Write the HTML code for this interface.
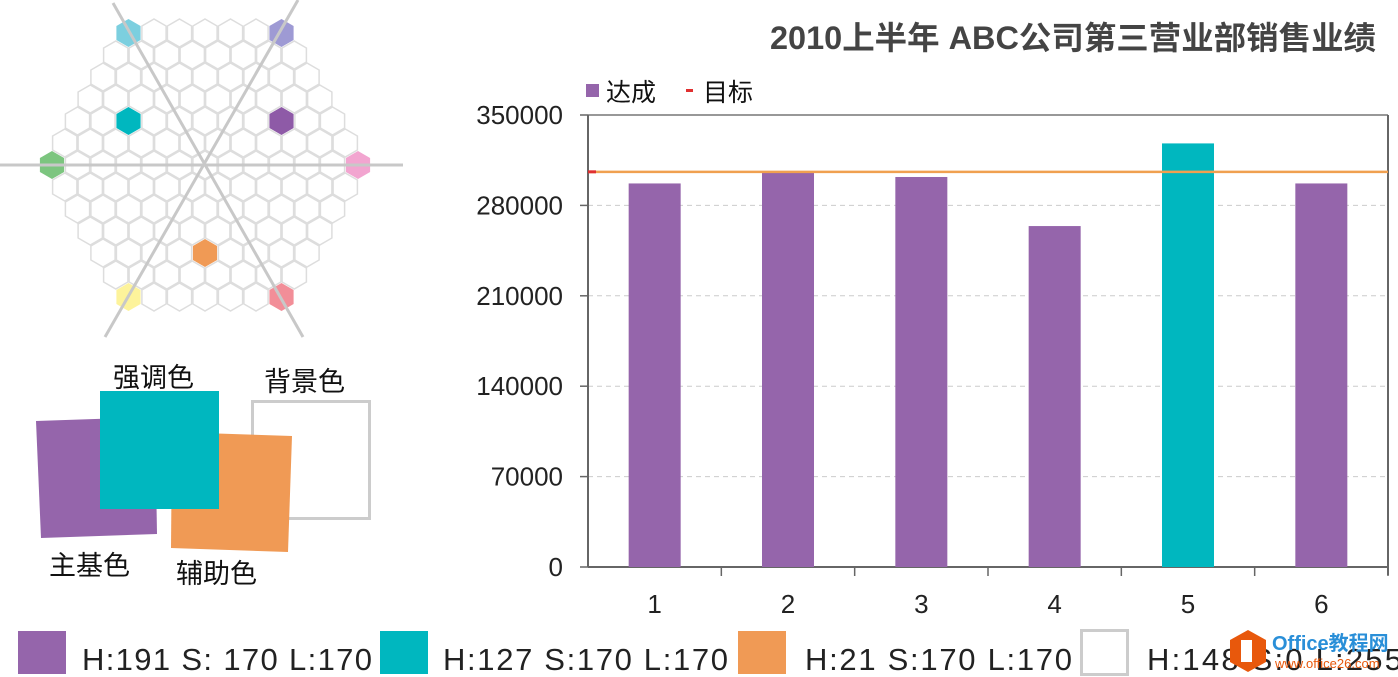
<!DOCTYPE html>
<html><head><meta charset="utf-8"><style>
body{margin:0;width:1398px;height:677px;background:#fff;overflow:hidden;font-family:"Liberation Sans","Noto Sans CJK SC",sans-serif}
svg{position:absolute;left:0;top:0}
</style></head><body>
<svg width="1398" height="677" viewBox="0 0 1398 677">
<g id="hexwheel"></g>
<g stroke="#c8c8c8" stroke-width="3">
<line x1="0" y1="165" x2="403" y2="165"/>
<line x1="113" y1="3" x2="303" y2="337"/>
<line x1="298" y1="0" x2="105" y2="337"/>
</g>
<g>
<rect x="252.5" y="401.5" width="117" height="117" fill="#fff" stroke="#ccc" stroke-width="3"/>
<polygon points="36,421 155,417 157,534 41,538" fill="#9565ab"/>
<polygon points="172,432 292,436 288,552 171,548" fill="#f09a55"/>
<rect x="100" y="391" width="119" height="118" fill="#00b7bf"/>
</g>
<g font-size="27" fill="#111" font-family="Liberation Sans,Noto Sans CJK SC,sans-serif">
<text x="113" y="387">强调色</text>
<text x="264" y="391">背景色</text>
<text x="49" y="575">主基色</text>
<text x="176" y="583">辅助色</text>
</g>
<g font-size="31" fill="#222">
<rect x="18" y="631" width="48" height="43" fill="#9565ab"/>
<text x="82" y="670" textLength="290" lengthAdjust="spacing">H:191  S: 170  L:170</text>
<rect x="380" y="631" width="48" height="43" fill="#00b7bf"/>
<text x="443" y="670" textLength="285" lengthAdjust="spacing">H:127  S:170  L:170</text>
<rect x="738" y="631" width="48" height="43" fill="#f09a55"/>
<text x="805" y="670" textLength="267" lengthAdjust="spacing">H:21  S:170  L:170</text>
<rect x="1081.5" y="630.5" width="46" height="44" fill="#fff" stroke="#ccc" stroke-width="3"/>
<text x="1147" y="670" textLength="255" lengthAdjust="spacing">H:148  S:0  L:255</text>
</g>
<g>
<polygon points="1248,630 1266,640 1266,662 1248,672 1230,662 1230,640" fill="#e8580c"/>
<rect x="1241" y="640" width="11" height="22" fill="#fff"/>
<text x="1272" y="650" font-size="20" font-weight="bold" fill="#2a8fd8">Office教程网</text>
<text x="1275" y="668" font-size="13" fill="#e8580c">www.office26.com</text>
</g>
<text x="770" y="49" textLength="606" lengthAdjust="spacingAndGlyphs" font-size="32" font-weight="bold" fill="#444">2010上半年 ABC公司第三营业部销售业绩</text>
<g font-size="25" fill="#111">
<rect x="586" y="84" width="13" height="13" fill="#9565ab"/>
<text x="606" y="101">达成</text>
<rect x="686" y="89" width="7" height="3" fill="#e03030"/>
<text x="703" y="101">目标</text>
</g>
<g id="chart"></g>
</svg>
<script>
const categories=["1","2","3","4","5","6"];
const achieved=[297000,306000,302000,264000,328000,297000];
const target=[306000];
const yTicks=[0,70000,140000,210000,280000,350000];
const highlight=[false,false,false,false,true,false];
const NS="http://www.w3.org/2000/svg";
function mk(p,t,a){const e=document.createElementNS(NS,t);for(const k in a)e.setAttribute(k,a[k]);p.appendChild(e);return e;}
const hw=document.getElementById('hexwheel');
const cx=205,cy=165,dx=25.5,dy=22,r=14;
const colored={"-6,-3":"#7ccfdf","-6,3":"#9e9ad4","-2,-3":"#00b7bf","-2,3":"#8e5aa7","0,-6":"#7cc57f","0,6":"#f2a5d0","4,0":"#f09a55","6,-3":"#fdf39b","6,3":"#f28e98"};
for(let k=-6;k<=6;k++){const half=Math.abs(k)/2;for(let i=-6+half;i<=6-half;i+=1){
 const x=cx+i*dx,y=cy+k*dy;let pts=[];for(let j=0;j<6;j++){const a=Math.PI/180*(60*j-90);pts.push((x+r*Math.cos(a)).toFixed(1)+','+(y+r*Math.sin(a)).toFixed(1));}
 const key=k+','+i;const c=colored[key];
 const h=mk(hw,'polygon',{points:pts.join(' '),fill:c||'#fff',stroke:c?'none':'#ddd','stroke-width':1.5});
 
 
}}
const g=document.getElementById('chart');
const L=588,R=1388,T=115,B=567,ymax=350000;
const yS=v=>B-(v/ymax)*(B-T);
const cw=(R-L)/categories.length;
const xS=i=>L+cw*(i+0.5);
yTicks.forEach(v=>{const y=yS(v);
 if(v>0&&v<ymax){const l=mk(g,'line',{x1:L,x2:R,y1:y,y2:y,stroke:'#ccc','stroke-dasharray':'5,4'});}
 const t=mk(g,'text',{x:563,y:y+9,'text-anchor':'end','font-size':26,fill:'#222'});t.textContent=v;
 
 mk(g,'line',{x1:580,x2:L,y1:y,y2:y,stroke:'#666','stroke-width':1.5});
});
mk(g,'line',{x1:L,x2:R,y1:T,y2:T,stroke:'#777','stroke-width':1.5});
mk(g,'line',{x1:L,x2:L,y1:T,y2:B,stroke:'#666','stroke-width':2});
mk(g,'line',{x1:R,x2:R,y1:T,y2:B+8,stroke:'#666','stroke-width':2});
mk(g,'line',{x1:L,x2:R,y1:B,y2:B,stroke:'#666','stroke-width':2});
categories.forEach((c,i)=>{
 const bw=52,v=achieved[i];
 const b=mk(g,'rect',{x:xS(i)-bw/2,y:yS(v),width:bw,height:B-yS(v),fill:highlight[i]?'#00b7bf':'#9565ab'});
 
 mk(g,'line',{x1:L+cw*(i+1),x2:L+cw*(i+1),y1:B,y2:B+9,stroke:'#666','stroke-width':1.5});
 const t=mk(g,'text',{x:xS(i),y:613,'text-anchor':'middle','font-size':26,fill:'#222'});t.textContent=c;
 
});
const ty=yS(target[0]);
const tl=mk(g,'line',{x1:L,x2:R,y1:ty,y2:ty,stroke:'#f0a050','stroke-width':2.5});

mk(g,'line',{x1:L,x2:L+8,y1:ty,y2:ty,stroke:'#e03030','stroke-width':3});
</script>
</body></html>
